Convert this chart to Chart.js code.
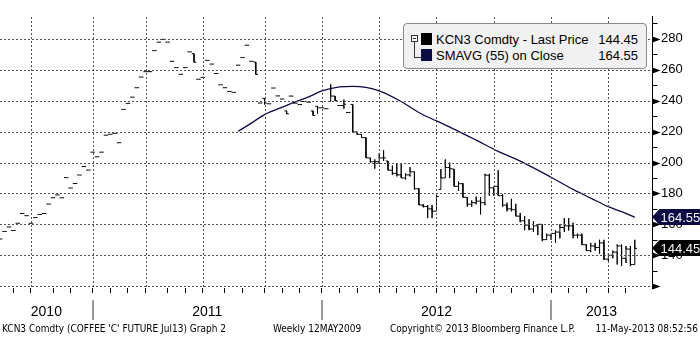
<!DOCTYPE html>
<html>
<head>
<meta charset="utf-8">
<script src="https://cdn.jsdelivr.net/npm/chart.js@4.4.1/dist/chart.umd.min.js"></script>
<style>
  body { margin: 0; background: #fff; }
  #wrap { position: relative; width: 700px; height: 337px; overflow: hidden; font-family: "Liberation Sans", Arial, sans-serif; color: #000; }
  #chart { position: absolute; left: 0; top: 0; }
  #grid { position: absolute; left: 0; top: 0; width: 700px; height: 337px; pointer-events: none; }
  #grid .h { position: absolute; height: 1px; background: repeating-linear-gradient(to right, #505050 0 2px, transparent 2px 4px); }
  #grid .v { position: absolute; width: 1px; background: repeating-linear-gradient(to bottom, #505050 0 2px, transparent 2px 4px); }
  #legend { position: absolute; left: 403px; top: 23px; width: 244px; height: 46px; box-sizing: border-box;
            border: 1px solid #8a8a8a; border-radius: 4px; background: #f1f1f1; font-size: 13px; }
  #legend .sw { position: absolute; left: 17px; width: 11px; height: 12px; }
  #legend .name { position: absolute; left: 32px; line-height: 14px; white-space: nowrap; }
  #legend .val { position: absolute; right: 8px; line-height: 14px; }
  #legend .box { position: absolute; left: 7px; top: 11px; width: 5px; height: 5px; border: 1px solid #333; background: #fff; }
  #legend .box:after { content: ""; position: absolute; left: 1px; top: 2px; width: 3px; height: 1px; background: #333; }
  #legend .stem { position: absolute; left: 10px; top: 18px; width: 6px; height: 15px; border-left: 1px solid #333; border-bottom: 1px solid #333; }
  #footer span { position: absolute; top: 323px; font-family: "Liberation Sans Narrow", "DejaVu Sans Condensed", sans-serif; font-size: 10px; white-space: nowrap; }
</style>
</head>
<body>
<div id="wrap">
  <canvas id="chart" width="700" height="337"></canvas>
  <div id="grid"></div>
  <div id="legend">
    <div class="box"></div><div class="stem"></div>
    <span class="sw" style="top:9px;background:#000"></span>
    <span class="name" style="top:9px">KCN3 Comdty - Last Price</span>
    <span class="val" id="lastVal" style="top:9px"></span>
    <span class="sw" style="top:25px;background:#0c0c45"></span>
    <span class="name" style="top:25px">SMAVG (55) on Close</span>
    <span class="val" id="smaVal" style="top:25px"></span>
  </div>
  <div id="footer">
    <span style="left:2px">KCN3 Comdty (COFFEE 'C' FUTURE Jul13) Graph 2</span>
    <span style="left:273px">Weekly 12MAY2009</span>
    <span style="left:390px">Copyright© 2013 Bloomberg Finance L.P.</span>
    <span style="right:2px">11-May-2013 08:52:56</span>
  </div>
</div>
<script>
// weekly bars, index 0 = week ending 13 Aug 2010
const opens = [
  150.5, 155.4, 158.3, 156.0, 160.7, 167.0, 165.6, 160.7, 164.4, 166.4,
  167.0, 173.1, 177.2, 179.0, 177.2, 190.2, 183.5, 186.4, 191.9, 197.4,
  195.1, 206.7, 203.7, 206.7, 217.7, 218.3, 218.9, 212.8, 234.4, 238.3,
  242.3, 248.4, 255.3, 258.8, 258.8, 272.4, 277.9, 279.7, 277.9, 265.5,
  261.4, 257.1, 261.4, 271.6, 270.4, 253.9, 255.1, 266.1, 263.7, 257.6,
  250.3, 248.4, 246.0, 245.4, 263.0, 267.9, 275.9, 265.5, 265.0, 238.5,
  241.5, 238.0, 248.2, 243.1, 241.1, 233.4, 243.0, 238.4, 237.5, 239.5,
  239.0, 233.4, 236.4, 235.4, 234.8, 239.5, 243.0, 236.9, 236.9, 232.4,
  237.6, 219.8, 218.2, 216.1, 203.0, 200.5, 200.5, 203.0, 201.0, 195.0,
  193.0, 192.0, 190.0, 192.0, 194.0, 183.0, 172.5, 171.5, 170.0, 168.5,
  182.6, 190.0, 196.8, 195.8, 184.6, 186.3, 177.5, 173.0, 174.0, 175.0,
  174.0, 191.8, 183.6, 184.6, 178.5, 172.4, 170.0, 169.5, 165.3, 162.3,
  159.5, 157.0, 159.0, 160.0, 150.1, 153.0, 154.1, 155.0, 158.0, 159.0,
  159.0, 153.0, 153.0, 146.8, 143.0, 146.0, 145.0, 148.0, 137.5, 140.0,
  142.0, 146.0, 138.0, 144.0, 134.0
];
const highs = [
  150.5, 155.4, 158.3, 156.0, 160.7, 167.0, 165.6, 160.7, 164.4, 166.4,
  167.0, 173.1, 177.2, 179.0, 177.2, 190.2, 183.5, 186.4, 191.9, 197.4,
  195.1, 206.7, 203.7, 206.7, 217.7, 218.3, 218.9, 212.8, 234.4, 238.3,
  242.3, 248.4, 255.3, 258.8, 258.8, 272.4, 277.9, 279.7, 277.9, 265.5,
  261.4, 257.1, 261.4, 271.6, 270.4, 253.9, 255.1, 266.1, 263.7, 257.6,
  250.3, 248.4, 246.0, 245.4, 263.0, 267.9, 275.9, 265.5, 265.0, 238.5,
  241.5, 238.0, 248.2, 243.1, 241.1, 233.4, 243.0, 238.4, 237.5, 239.5,
  239.0, 233.4, 236.4, 235.4, 234.8, 250.6, 243.0, 236.9, 240.7, 232.4,
  237.6, 219.8, 218.2, 216.1, 203.0, 202.0, 206.0, 208.0, 201.0, 198.0,
  199.0, 199.0, 193.0, 197.0, 194.0, 183.5, 173.0, 172.5, 172.5, 178.7,
  195.8, 202.0, 200.0, 195.8, 187.7, 186.6, 177.5, 175.5, 178.0, 177.5,
  192.7, 192.7, 184.6, 195.0, 179.6, 174.0, 176.5, 173.3, 167.4, 165.3,
  163.3, 162.0, 160.0, 160.0, 154.0, 154.0, 156.2, 160.0, 164.0, 164.0,
  161.0, 154.0, 154.0, 147.0, 148.0, 148.0, 150.0, 150.0, 141.0, 143.0,
  147.0, 147.0, 146.0, 146.0, 150.0
];
const lows = [
  150.5, 155.4, 158.3, 156.0, 160.7, 167.0, 165.6, 160.7, 164.4, 166.4,
  167.0, 173.1, 177.2, 179.0, 177.2, 190.2, 183.5, 186.4, 191.9, 197.4,
  195.1, 206.7, 203.7, 206.7, 217.7, 218.3, 218.9, 212.8, 234.4, 238.3,
  242.3, 248.4, 255.3, 258.8, 258.8, 272.4, 277.9, 279.7, 277.9, 265.5,
  261.4, 257.1, 261.4, 271.6, 264.9, 253.9, 255.1, 266.1, 263.7, 257.6,
  250.3, 248.4, 246.0, 245.4, 263.0, 267.9, 275.9, 265.5, 257.0, 238.5,
  237.5, 238.0, 248.2, 243.1, 241.1, 231.5, 243.0, 238.4, 237.5, 239.5,
  239.0, 230.4, 231.6, 235.4, 234.8, 239.5, 240.0, 236.9, 234.8, 232.4,
  219.8, 218.2, 216.1, 203.0, 200.0, 196.0, 199.0, 201.0, 195.0, 192.0,
  191.0, 190.0, 189.0, 191.0, 182.5, 172.5, 171.0, 164.0, 164.0, 168.5,
  182.6, 190.0, 190.0, 184.6, 181.6, 177.5, 171.4, 171.4, 173.0, 166.4,
  172.4, 178.5, 178.5, 178.5, 171.4, 168.4, 168.4, 165.3, 161.3, 156.2,
  156.2, 155.0, 153.0, 149.1, 150.0, 150.0, 148.0, 150.9, 155.0, 156.0,
  151.0, 151.0, 146.8, 143.0, 142.0, 143.0, 141.0, 137.0, 136.0, 138.0,
  134.0, 133.0, 135.0, 133.0, 134.0
];
const closes = [
  150.5, 155.4, 158.3, 156.0, 160.7, 167.0, 165.6, 160.7, 164.4, 166.4,
  167.0, 173.1, 177.2, 179.0, 177.2, 190.2, 183.5, 186.4, 191.9, 197.4,
  195.1, 206.7, 203.7, 206.7, 217.7, 218.3, 218.9, 212.8, 234.4, 238.3,
  242.3, 248.4, 255.3, 258.8, 258.8, 272.4, 277.9, 279.7, 277.9, 265.5,
  261.4, 257.1, 261.4, 271.6, 264.9, 253.9, 255.1, 266.1, 263.7, 257.6,
  250.3, 248.4, 246.0, 245.4, 263.0, 267.9, 275.9, 265.5, 257.0, 238.5,
  238.5, 238.0, 248.2, 243.1, 241.1, 231.5, 243.0, 238.4, 237.5, 239.5,
  239.0, 230.4, 235.4, 235.4, 234.8, 243.0, 240.0, 236.9, 237.7, 232.4,
  219.8, 218.2, 216.1, 203.0, 200.5, 200.5, 203.0, 203.0, 195.0, 193.0,
  192.0, 190.0, 192.0, 194.0, 183.0, 172.5, 171.5, 170.0, 168.5, 178.0,
  190.0, 196.8, 196.0, 184.6, 186.3, 177.5, 173.0, 174.0, 175.0, 174.0,
  191.8, 183.6, 184.6, 178.5, 172.4, 170.0, 169.5, 165.3, 162.3, 159.5,
  157.0, 159.0, 160.0, 150.1, 153.0, 154.1, 155.0, 158.0, 159.0, 159.0,
  153.0, 153.0, 146.8, 143.0, 146.0, 145.0, 148.0, 137.5, 140.0, 142.0,
  146.0, 138.0, 144.0, 134.0, 144.45
];

// 55-week moving average, read at selected weeks
const smaWeeks  = [54, 57, 60, 64, 67, 70, 73, 77, 80, 83, 86, 91, 95, 99, 104, 108, 113, 118, 125, 130, 134, 138, 141, 144];
const smaValues = [220.2, 225.5, 231.0, 235.8, 239.3, 242.5, 246.3, 248.9, 249.3, 248.6, 246.4, 239.5, 232.4, 226.9,
                   220.2, 214.5, 207.2, 200.9, 190.5, 182.6, 177.0, 171.4, 168.2, 164.55];

// first week of each month / quarter, and year boundaries
const monthTicks = [3, 7, 12, 16, 21, 25, 29, 33, 38, 42, 46, 51, 55, 60, 64, 68, 73, 77, 81, 86, 90, 94,
                    99, 103, 108, 112, 116, 121, 125, 129, 133, 138, 142];
const quarterTicks = [7, 21, 33, 46, 60, 73, 86, 99, 112, 125, 138];
const yearStarts = [21, 73, 125];
const yearLabels = ['2010', '2011', '2012', '2013'];
const yTicks = [120, 130, 140, 150, 160, 170, 180, 190, 200, 210, 220, 230, 240, 250, 260, 270, 280, 290];

const X_MIN = -0.03, X_MAX = 147.9;
const Y_MIN = 118.8, Y_MAX = 294.3;
const FONT = '"Liberation Sans", Arial, sans-serif';
const NAVY = '#0c0c45';

const lastClose = closes[closes.length - 1];
const lastSma = smaValues[smaValues.length - 1];
document.getElementById('lastVal').textContent = lastClose.toFixed(2);
document.getElementById('smaVal').textContent = lastSma.toFixed(2);

// each bar: open tick left, high-low stroke, close tick right
const barPoints = [];
closes.forEach((c, i) => {
    barPoints.push(
        {x: i - 0.5, y: opens[i]}, {x: i, y: opens[i]},
        {x: i, y: highs[i]}, {x: i, y: lows[i]},
        {x: i, y: c}, {x: i + 0.5, y: c},
        {x: i + 0.5, y: null}
    );
});
const smaPoints = smaWeeks.map((w, i) => ({x: w, y: smaValues[i]}));

const yearMids = [X_MIN].concat(yearStarts).map((s, i, arr) => (s + (i + 1 < arr.length ? arr[i + 1] : X_MAX)) / 2);

// arrows, minor ticks, year separators and last-value flags
const decor = {
    id: 'decor',
    afterDraw(chart) {
        const {ctx, chartArea} = chart;
        const y = chart.scales.y, x = chart.scales.x;
        const ax = Math.round(chartArea.right) + 0.5;
        ctx.save();
        yTicks.forEach(v => {
            const py = Math.round(y.getPixelForValue(v)) + 0.5;
            ctx.fillStyle = '#000';
            ctx.strokeStyle = '#000';
            if (v % 20 === 0) {
                ctx.beginPath();
                ctx.moveTo(ax, py - 3);
                ctx.lineTo(ax + 8, py);
                ctx.lineTo(ax, py + 3);
                ctx.closePath();
                ctx.fill();
            } else {
                ctx.beginPath();
                ctx.moveTo(ax, py);
                ctx.lineTo(ax + 5, py);
                ctx.stroke();
            }
        });

        ctx.strokeStyle = '#9a9a9a';
        ctx.lineWidth = 2;
        yearStarts.forEach(w => {
            const px = Math.round(x.getPixelForValue(w));
            ctx.beginPath();
            ctx.moveTo(px, 300);
            ctx.lineTo(px, 320);
            ctx.stroke();
        });

        const flag = (val, bg) => {
            const py = Math.round(y.getPixelForValue(val));
            ctx.fillStyle = bg;
            ctx.beginPath();
            ctx.moveTo(ax - 0.5, py);
            ctx.lineTo(ax + 7, py - 8);
            ctx.lineTo(700, py - 8);
            ctx.lineTo(700, py + 8);
            ctx.lineTo(ax + 7, py + 8);
            ctx.closePath();
            ctx.fill();
            ctx.fillStyle = '#f4f4f4';
            ctx.font = '13px ' + FONT;
            ctx.textBaseline = 'middle';
            ctx.fillText(val.toFixed(2), ax + 8, py + 1);
        };
        flag(lastSma, NAVY);
        flag(lastClose, '#000');
        ctx.restore();
    }
};

const chart = new Chart(document.getElementById('chart'), {
    type: 'line',
    data: {
        datasets: [{
            label: 'KCN3 Comdty - Last Price',
            data: barPoints,
            borderColor: '#000',
            backgroundColor: 'transparent',
            fill: false,
            borderWidth: 1,
            pointRadius: 0,
            tension: 0,
            spanGaps: false
        }, {
            label: 'SMAVG (55) on Close',
            data: smaPoints,
            borderColor: NAVY,
            backgroundColor: 'transparent',
            fill: false,
            borderWidth: 1.3,
            pointRadius: 0,
            cubicInterpolationMode: 'monotone'
        }]
    },
    options: {
        responsive: false,
        animation: false,
        events: [],
        layout: { padding: 0 },
        plugins: { legend: { display: false }, tooltip: { enabled: false } },
        scales: {
            x: {
                type: 'linear', min: X_MIN, max: X_MAX, weight: 0,
                afterBuildTicks: s => { s.ticks = monthTicks.map(v => ({value: v})); },
                afterFit: s => { s.height = 10; },
                grid: { drawOnChartArea: false, color: '#000', tickColor: '#000', tickLength: 5 },
                border: { display: false },
                ticks: { display: false }
            },
            x2: {
                type: 'linear', position: 'bottom', min: X_MIN, max: X_MAX, weight: 1,
                afterBuildTicks: s => { s.ticks = yearMids.map(v => ({value: v})); },
                afterFit: s => { s.height = 39; },
                grid: { display: false, drawTicks: false },
                border: { display: false },
                ticks: {
                    autoSkip: false, maxRotation: 0, padding: 6, color: '#000',
                    font: { size: 14, family: FONT },
                    callback: (v, i) => yearLabels[i]
                }
            },
            y: {
                position: 'right', min: Y_MIN, max: Y_MAX,
                afterBuildTicks: s => { s.ticks = yTicks.map(v => ({value: v})); },
                afterFit: s => { s.width = 48; },
                grid: { drawOnChartArea: false, drawTicks: false },
                border: { display: true, color: '#000', width: 1 },
                ticks: {
                    padding: 9, color: '#000', font: { size: 13, family: FONT },
                    callback: v => (v % 20 === 0 && v >= 140 && v <= 280) ? String(v) : ''
                }
            }
        }
    },
    plugins: [decor]
});

// dotted grid as a thin overlay, placed from the chart's own scales
const gridLayer = document.getElementById('grid');
const area = chart.chartArea;
yTicks.filter(v => v % 20 === 0 && v < 290).forEach(v => {
    const el = document.createElement('div');
    el.className = 'h';
    el.style.left = Math.round(area.left) + 'px';
    el.style.width = Math.round(area.right - area.left) + 'px';
    el.style.top = Math.round(chart.scales.y.getPixelForValue(v)) + 'px';
    gridLayer.appendChild(el);
});
quarterTicks.forEach(w => {
    const el = document.createElement('div');
    el.className = 'v';
    el.style.left = Math.round(chart.scales.x.getPixelForValue(w)) + 'px';
    el.style.top = Math.round(area.top) + 'px';
    el.style.height = Math.round(area.bottom - area.top) + 'px';
    gridLayer.appendChild(el);
});
</script>
</body>
</html>
